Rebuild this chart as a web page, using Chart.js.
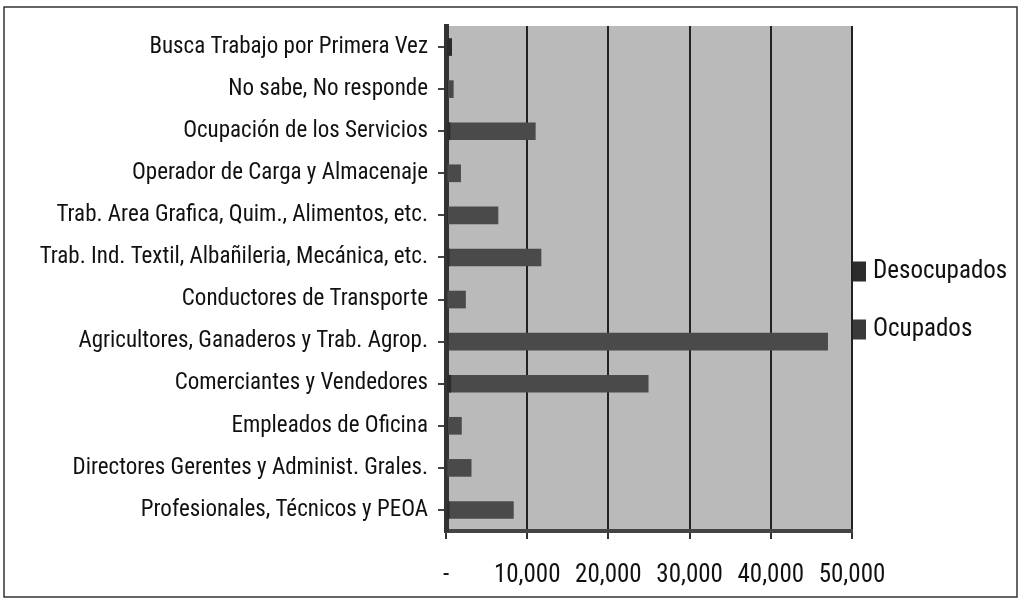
<!DOCTYPE html>
<html>
<head>
<meta charset="utf-8">
<script src="https://cdn.jsdelivr.net/npm/chart.js@4.4.1/dist/chart.umd.min.js"></script>
<style>
    html, body { margin: 0; padding: 0; background: #ffffff; }
    #wrap { width: 1021px; height: 600px; position: relative; }
</style>
</head>
<body>
<div id="wrap"><canvas id="chart" width="1021" height="600"></canvas></div>
<script>
// categories, top to bottom as in the picture
const categories = [
    'Busca Trabajo por Primera Vez',
    'No sabe, No responde',
    'Ocupación de los Servicios',
    'Operador de Carga y Almacenaje',
    'Trab. Area Grafica, Quim., Alimentos, etc.',
    'Trab. Ind. Textil, Albañileria, Mecánica, etc.',
    'Conductores de Transporte',
    'Agricultores, Ganaderos y Trab. Agrop.',
    'Comerciantes y Vendedores',
    'Empleados de Oficina',
    'Directores Gerentes y Administ. Grales.',
    'Profesionales, Técnicos y PEOA'
];
const desocupados = [700, 200, 500, 100, 200, 400, 100, 300, 600, 200, 100, 400];
const ocupados = [0, 900, 11000, 1800, 6400, 11700, 2400, 47000, 24900, 1900, 3100, 8300];
const xTicks = [0, 10000, 20000, 30000, 40000, 50000];

const labelFont = "'Liberation Sans Narrow', 'Roboto Condensed', 'DejaVu Sans Condensed', sans-serif";

// grey plot background + outer frame
const backdrop = {
    id: 'backdrop',
    beforeDraw: function(chart) {
        const a = chart.chartArea;
        const c = chart.ctx;
        c.save();
        c.fillStyle = '#bababa';
        c.fillRect(a.left, a.top, a.right - a.left, a.bottom - a.top);
        c.restore();
    },
    afterDraw: function(chart) {
        const c = chart.ctx;
        c.save();
        c.strokeStyle = '#333';
        c.lineWidth = 1.5;
        c.strokeRect(4, 7, chart.width - 8, chart.height - 10);
        c.restore();
    }
};

// legend on the right, Desocupados above Ocupados
const sideLegend = {
    id: 'sideLegend',
    afterDraw: function(chart) {
        const a = chart.chartArea;
        const c = chart.ctx;
        const mid = (a.top + a.bottom) / 2;
        const rows = [mid - 7, mid + 51];
        c.save();
        c.font = '25px ' + labelFont;
        c.textBaseline = 'middle';
        chart.data.datasets.forEach(function(ds, i) {
            const y = rows[i];
            c.fillStyle = ds.legendColor;
            c.fillRect(a.right + 1, y - 10, 13, 20);
            c.fillStyle = '#111';
            c.fillText(ds.label, a.right + 21, y);
        });
        c.restore();
    }
};

const ctx = document.getElementById('chart').getContext('2d');
new Chart(ctx, {
    type: 'bar',
    data: {
        labels: categories,
        datasets: [
            {
                label: 'Desocupados',
                data: desocupados,
                backgroundColor: '#2c2c2c',
                legendColor: '#2c2c2c',
                barThickness: 17
            },
            {
                label: 'Ocupados',
                data: ocupados,
                backgroundColor: '#4a4a4a',
                legendColor: '#3a3a3a',
                barThickness: 17
            }
        ]
    },
    options: {
        indexAxis: 'y',
        responsive: false,
        animation: false,
        events: [],
        grouped: false,
        layout: {
            padding: { left: 6, top: 26, right: 169, bottom: 9 }
        },
        plugins: {
            legend: { display: false },
            tooltip: { enabled: false }
        },
        scales: {
            x: {
                min: 0,
                max: 50000,
                afterBuildTicks: function(scale) {
                    scale.ticks = xTicks.map(function(v) { return { value: v }; });
                },
                afterFit: function(scale) {
                    scale.height = 60;
                    scale.paddingLeft = 0;
                    scale.paddingRight = 0;
                },
                grid: {
                    color: '#222',
                    lineWidth: 2,
                    tickLength: 8,
                    tickColor: '#333'
                },
                border: { display: true, color: '#444', width: 4 },
                ticks: {
                    padding: 22,
                    color: '#111',
                    font: { family: labelFont, size: 25 },
                    maxRotation: 0,
                    callback: function(value) {
                        return value === 0 ? '-' : value.toLocaleString('en-US');
                    }
                }
            },
            y: {
                afterFit: function(scale) {
                    scale.width = 440;
                    scale.paddingTop = 0;
                    scale.paddingBottom = 0;
                },
                grid: {
                    drawOnChartArea: false,
                    offset: false,
                    tickLength: 8,
                    tickColor: '#444',
                    lineWidth: 2
                },
                border: { display: true, color: '#333', width: 5 },
                ticks: {
                    padding: 10,
                    color: '#111',
                    font: { family: labelFont, size: 23 }
                }
            }
        }
    },
    plugins: [backdrop, sideLegend]
});
</script>
</body>
</html>
